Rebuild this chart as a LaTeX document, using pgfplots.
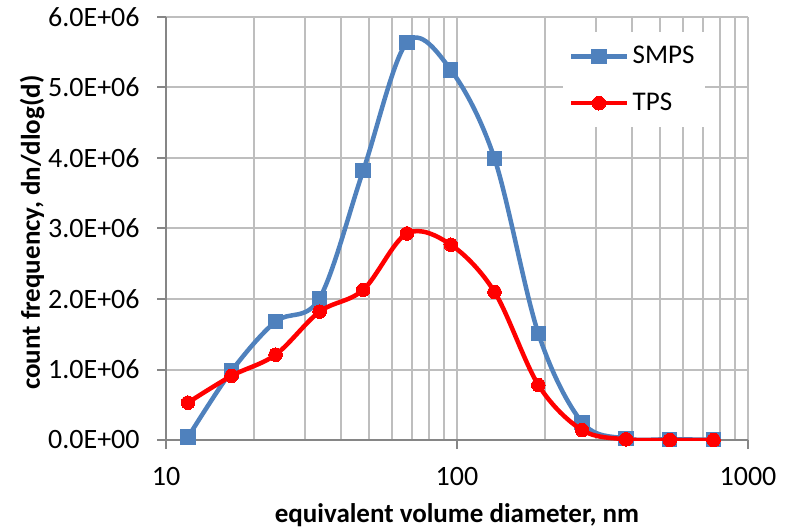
\documentclass[border=0pt]{standalone}
\usepackage{fontspec}
\setmainfont{Carlito}
\usepackage{pgfplots}
\pgfplotsset{compat=1.18}

\definecolor{smps}{HTML}{4F81BD}
\definecolor{tps}{HTML}{FF0000}
\definecolor{axisgray}{HTML}{868686}
\definecolor{gridgray}{HTML}{BEBEBE}

\newcommand\tickfont{\fontsize{14}{16.8}\selectfont}
\newcommand\legfont{\fontsize{13.5}{16.2}\selectfont}
\newcommand\lblfont{\fontsize{13.5}{16.2}\selectfont\bfseries}

\begin{document}
\begin{tikzpicture}
\useasboundingbox (-83pt,-44.5pt) rectangle (312pt,220pt);
\begin{axis}[
  at={(0,0)}, anchor=south west,
  scale only axis, width=291pt, height=211.5pt,
  xmode=log, xmin=10, xmax=1000,
  ymin=0, ymax=6000000,
  axis lines=left, axis line style={-, axisgray, line width=1pt},
  xtick={10,100,1000},
  xticklabels={10,100,1000},
  minor xtick={20,30,40,50,60,70,80,90,200,300,400,500,600,700,800,900},
  ytick={0,1000000,2000000,3000000,4000000,5000000,6000000},
  yticklabels={0.0E+00,1.0E+06,2.0E+06,3.0E+06,4.0E+06,5.0E+06,6.0E+06},
  scaled y ticks=false,
  tick align=outside, major tick length=4.5pt, minor tick length=0pt,
  tick style={axisgray, line width=1pt},
  xmajorgrids, xminorgrids, ymajorgrids,
  major grid style={gridgray, line width=1pt},
  minor grid style={gridgray, line width=1pt},
  /pgf/number format/assume math mode=true,
  every tick label/.append style={font=\tickfont},
  yticklabel style={inner sep=0pt, xshift=-8.5pt},
  xticklabel style={inner sep=0pt, yshift=-9pt},
  xlabel={equivalent volume diameter, nm},
  ylabel={count frequency, dn/dlog(d)},
  xlabel style={font=\lblfont, at={(axis description cs:0.5,-0.1939)}, anchor=base},
  ylabel style={font=\lblfont, at={(axis description cs:-0.2302,0.49)}, anchor=center},
  clip mode=individual,
  legend style={at={(rel axis cs:0.926,0.9645)}, anchor=north east,
    draw=none, fill=white, font=\legfont, inner xsep=3pt, inner ysep=5pt,
    row sep=9pt},
  legend cell align=left,
  legend image code/.code={
    \draw[mark repeat=2, mark phase=2, #1]
      plot coordinates {(0pt,0pt) (13.75pt,0pt) (27.5pt,0pt)};},
]
\addplot[smps, line width=2.25pt, smooth, tension=0.55,
  mark=square*, mark size=3.6pt, mark options={line width=0pt}]
  table {
  x      y
  11.9   40000
  16.8   980000
  23.8   1680000
  33.7   2010000
  47.6   3820000
  67.3   5640000
  95.2   5250000
  134.6  3990000
  190.4  1510000
  269.2  250000
  380.7  20000
  538.4  10000
  761.4  5000
  };
\addlegendentry{SMPS}
\addplot[tps, line width=2.25pt, smooth, tension=0.55,
  mark=*, mark size=3.4pt, mark options={line width=0pt}]
  table {
  x      y
  11.9   530000
  16.8   910000
  23.8   1210000
  33.7   1820000
  47.6   2130000
  67.3   2930000
  95.2   2770000
  134.6  2100000
  190.4  780000
  269.2  140000
  380.7  10000
  538.4  0
  761.4  0
  };
\addlegendentry{TPS}
\end{axis}
\end{tikzpicture}
\end{document}
